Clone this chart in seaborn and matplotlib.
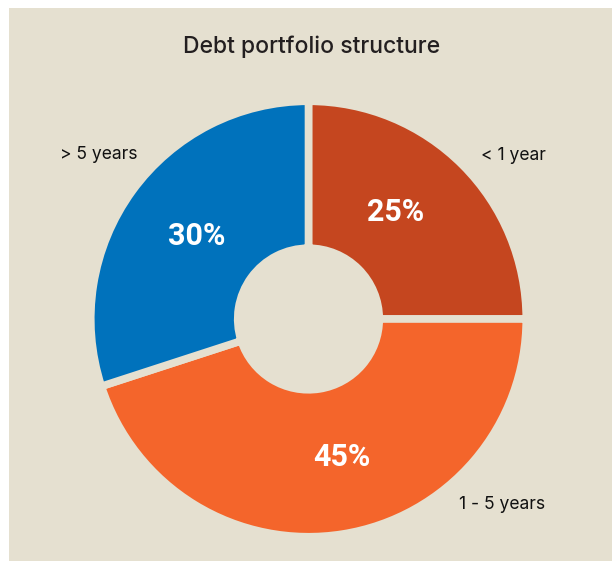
import matplotlib
matplotlib.use("Agg")
import matplotlib.pyplot as plt
from matplotlib.patches import Rectangle
import seaborn as sns

# Debt maturity buckets, in clockwise order from 12 o'clock
categories = ["< 1 year", "1 - 5 years", "> 5 years"]
shares = [25, 45, 30]
palette_hex = ["#C5461F", "#F4652B", "#0072BC"]

title_text = "Debt portfolio structure"
beige = "#E5E0D0"

sns.set_theme(style="white")
colors = sns.color_palette(palette_hex)

W, H, DPI = 612, 561, 100
fig = plt.figure(figsize=(W / DPI, H / DPI), dpi=DPI, facecolor="white")

# Beige panel behind the chart (thin white margin top and left)
fig.patches.append(Rectangle((9 / W, 0), (W - 9) / W, (H - 8) / H,
                             transform=fig.transFigure, facecolor=beige,
                             edgecolor="none", zorder=-10))

ax = fig.add_axes([0, 0, 1, 1])
ax.set_facecolor("none")
ax.set_zorder(1)

wedges, texts, autotexts = ax.pie(
    shares,
    labels=categories,
    colors=colors,
    startangle=90,
    counterclock=False,
    radius=1.0,
    autopct=lambda p: f"{p:.0f}%",
    wedgeprops=dict(width=0.675, edgecolor=beige, linewidth=5.5),
)

# Scale: 1 data unit = 217.75 px, pie centre at (308.5, 319) px from top-left
S = 217.75
cx, cy = 308.5, 319
ax.set_xlim(-cx / S, (W - cx) / S)
ax.set_ylim(-(H - cy) / S, cy / S)
ax.set_aspect("equal")
ax.axis("off")

label_pos = {
    "< 1 year": (0.942, 0.730),
    "1 - 5 years": (0.889, -0.874),
    "> 5 years": (-0.965, 0.735),
}
for t in texts:
    t.set_position(label_pos[t.get_text()])
    t.set_ha("center")
    t.set_va("baseline")
    t.set_fontfamily("Inter")
    t.set_fontsize(12.6)
    t.set_color("#111111")

pct_pos = [(0.402, 0.451), (0.154, -0.675), (-0.515, 0.340)]
for t, pos in zip(autotexts, pct_pos):
    t.set_position(pos)
    t.set_ha("center")
    t.set_va("baseline")
    t.set_fontfamily("Roboto")
    t.set_fontweight("bold")
    t.set_fontsize(22)
    t.set_color("white")

fig.text(312 / W, 1 - 53.3 / H, title_text, ha="center", va="baseline",
         fontfamily="Inter", fontweight="medium", fontsize=16.5, color="#231F20",
         zorder=2)

fig.savefig("out.png", dpi=DPI, facecolor=fig.get_facecolor())
